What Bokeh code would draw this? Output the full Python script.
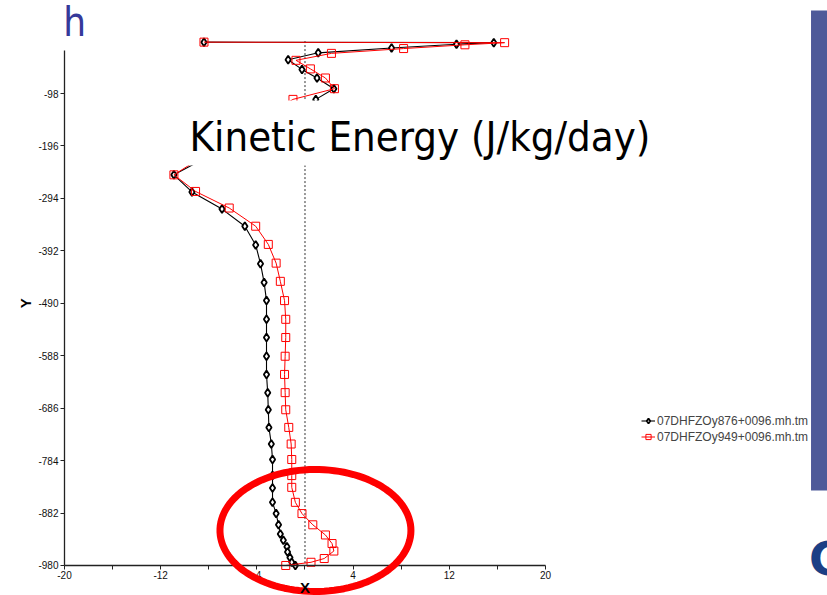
import numpy as np
from bokeh.plotting import figure
from bokeh.models import (Range1d, FixedTicker, BoxAnnotation, Label,
                          Legend, LegendItem, PolyAnnotation)
from bokeh.embed import file_html
from bokeh.resources import INLINE

# ---------------- data ----------------
series_names = ["07DHFZOy876+0096.mh.tm", "07DHFZOy949+0096.mh.tm"]

black_depth = [-2, -3, -6, -13, -22, -35, -53, -69, -89, -109,
               -250, -282, -314, -346, -381, -416, -451, -485, -520, -554,
               -589, -623, -657, -689, -722, -753, -782, -812, -835, -862,
               -883, -904, -921, -933, -945, -955, -965, -974, -980]
black_ke = [-8.4, 15.7, 12.6, 7.2, 1.1, -1.4, -0.25, 1.0, 2.4, 0.9,
            -10.9, -9.4, -6.9, -5.0, -4.1, -3.7, -3.4, -3.2, -3.2, -3.2,
            -3.2, -3.2, -3.1, -3.05, -3.0, -2.8, -2.7, -2.7, -2.7, -2.7,
            -2.4, -2.2, -2.05, -1.8, -1.5, -1.45, -1.25, -1.1, -0.8]

red_depth = [-2, -3, -7, -14, -23, -36, -52, -69, -89, -109,
             -250, -281, -312, -346, -380, -415, -449, -485, -520, -554,
             -589, -623, -657, -689, -722, -753, -782, -812, -834, -862,
             -883, -904, -923, -939, -953, -967, -974, -980]
red_ke = [-8.4, 16.6, 13.3, 8.2, 2.2, -0.75, 0.45, 1.7, 2.45, -1.0,
          -10.9, -9.1, -6.3, -4.1, -3.05, -2.4, -2.05, -1.7, -1.6, -1.6,
          -1.65, -1.7, -1.65, -1.6, -1.35, -1.15, -1.1, -1.1, -1.1, -0.8,
          -0.25, 0.65, 1.7, 2.25, 2.4, 1.6, 0.5, -1.6]

x_ticks = [-20, -12, -4, 4, 12, 20]
x_tick_labels = ["-20", "-12", "-4", "4", "12", "20"]
x_minor_ticks = [-16, -8, 0, 8, 16]
y_ticks = [-98, -196, -294, -392, -490, -588, -686, -784, -882, -980]
y_tick_labels = ["-98", "-196", "-294", "-392", "-490", "-588", "-686", "-784", "-882", "-980"]

title_text = "Kinetic Energy (J/kg/day)"
corner_text = "h"
logo_text = "C"
x_label_text = "X"
y_label_text = "Y"

# ---------------- figure ----------------
W, H = 827, 595
p = figure(width=W, height=H, output_backend="svg", toolbar_location=None,
           x_range=Range1d(-25.32, 43.45), y_range=Range1d(-1036.1, 75.8),
           min_border=0)
p.min_border_left = p.min_border_right = p.min_border_top = p.min_border_bottom = 0
p.outline_line_color = None
p.grid.visible = False
p.background_fill_color = "white"
p.border_fill_color = "white"

xa, ya = p.xaxis[0], p.yaxis[0]
xa.fixed_location = y_ticks[-1]
ya.fixed_location = x_ticks[0]
xa.bounds = (x_ticks[0], x_ticks[-1])
ya.bounds = (y_ticks[-1], -18)
for ax in (xa, ya):
    ax.axis_line_color = "#222222"
    ax.axis_line_width = 1.3
    ax.major_tick_line_color = "#222222"
    ax.minor_tick_line_color = "#222222"
    ax.major_tick_out = 4
    ax.major_tick_in = 0
    ax.minor_tick_out = 4
    ax.minor_tick_in = 0
    ax.major_label_text_font = "Liberation Sans"
    ax.major_label_text_font_size = "10px"
    ax.major_label_text_color = "#111111"
    ax.major_label_standoff = 2

xa.ticker = FixedTicker(ticks=x_ticks, minor_ticks=x_minor_ticks)
xa.major_label_overrides = dict(zip(x_ticks, x_tick_labels))
ya.ticker = FixedTicker(ticks=y_ticks, minor_ticks=[])
ya.major_label_overrides = dict(zip(y_ticks, y_tick_labels))

# dashed zero reference line over the plotted depth range
p.segment(x0=0, y0=0, x1=0, y1=y_ticks[-1], line_color="#333333",
          line_dash="2 2", line_width=1)

bl = p.line(black_ke, black_depth, line_color="black", line_width=1.1)
bs = p.scatter(black_ke, black_depth, marker="diamond", size=8,
               fill_color="white", line_color="black", line_width=1.8)
rl = p.line(red_ke, red_depth, line_color="red", line_width=1)
rs = p.scatter(red_ke, red_depth, marker="square", size=8,
               fill_color=None, line_color="red", line_width=1)

# white title box hiding part of the chart
p.add_layout(BoxAnnotation(left=-14.5, right=50, top=-111.1, bottom=-232.6,
                           fill_color="white", fill_alpha=1, line_color=None))

p.add_layout(Label(x=9.56, y=-178.3, text=title_text, text_align="center",
                   text_baseline="alphabetic", text_font="DejaVu Sans Condensed",
                   text_font_size="41.5px", text_color="black"))

p.add_layout(Label(x=-20.1, y=36.5, text=corner_text, text_align="left",
                   text_baseline="alphabetic", text_font="DejaVu Sans Condensed",
                   text_font_size="40px", text_color="#35399a"))

# red highlight ellipse (drawn below the axis label)
t = np.linspace(0, 2 * np.pi, 120)
ell_cx, ell_cy, ell_rx, ell_ry = 0.87, -914.6, 7.94, 114.0
p.add_layout(PolyAnnotation(xs=list(ell_cx + ell_rx * np.cos(t)),
                            ys=list(ell_cy + ell_ry * np.sin(t)),
                            fill_alpha=0, line_color="red", line_alpha=1,
                            line_width=7))

p.add_layout(Label(x=-23.2, y=-490, text=y_label_text, angle=np.pi / 2,
                   text_align="center", text_baseline="middle",
                   text_font="Liberation Sans", text_font_style="bold",
                   text_font_size="15px", text_color="black"))
p.add_layout(Label(x=0, y=-1005, text=x_label_text, text_align="center",
                   text_baseline="top", text_font="Liberation Sans",
                   text_font_style="bold", text_font_size="15px",
                   text_color="black"))

legend = Legend(items=[LegendItem(label=series_names[0], renderers=[bl, bs]),
                       LegendItem(label=series_names[1], renderers=[rl, rs])],
                location=(641, 151.5), glyph_width=14, glyph_height=13,
                label_height=13, spacing=2, padding=0, margin=0,
                border_line_color=None, background_fill_alpha=0,
                label_text_font="Liberation Sans", label_text_font_size="12px",
                label_standoff=2)
p.add_layout(legend)

# slide decoration on the right
p.add_layout(BoxAnnotation(left=42.08, right=50, top=57.1, bottom=-839.9,
                           fill_color="#4e5a99", fill_alpha=1, line_color=None,
                           level="overlay"))
p.add_layout(Label(x=41.91, y=-967, text=logo_text, text_align="left",
                   text_baseline="alphabetic", text_font="DejaVu Sans",
                   text_font_style="bold", text_font_size="46px",
                   text_color="#1c3f85"))

open("out.html", "w").write(file_html(p, INLINE))
